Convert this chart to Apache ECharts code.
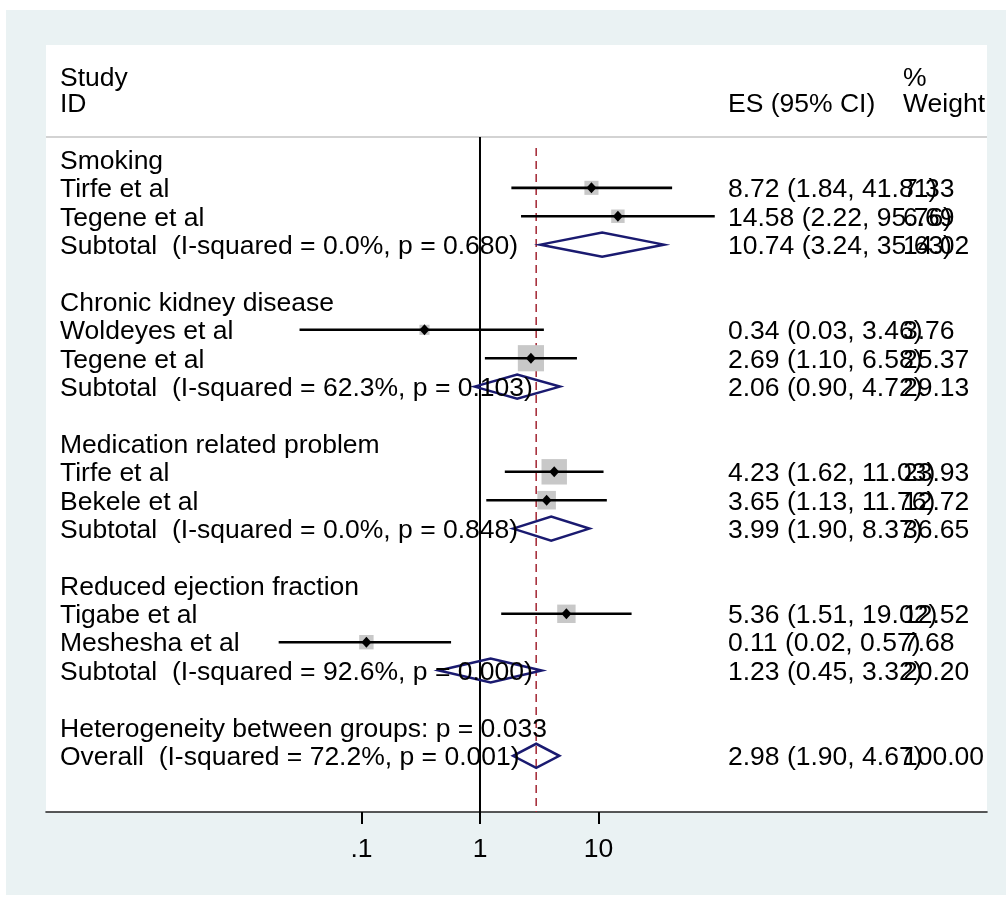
<!DOCTYPE html>
<html>
<head>
<meta charset="utf-8">
<script src="https://cdn.jsdelivr.net/npm/echarts@6/dist/echarts.min.js"></script>
<style>
html,body{margin:0;padding:0;background:#fff;}
#chart{width:1006px;height:900px;}
</style>
</head>
<body>
<div id="chart"></div>
<script>
// ---- data ----
const headerLine1 = ['Study', '', '%'];
const headerLine2 = ['ID', 'ES (95% CI)', 'Weight'];
const rowLabels = [
  'Smoking', 'Tirfe et al', 'Tegene et al', 'Subtotal  (I-squared = 0.0%, p = 0.680)', '',
  'Chronic kidney disease', 'Woldeyes et al', 'Tegene et al', 'Subtotal  (I-squared = 62.3%, p = 0.103)', '',
  'Medication related problem', 'Tirfe et al', 'Bekele et al', 'Subtotal  (I-squared = 0.0%, p = 0.848)', '',
  'Reduced ejection fraction', 'Tigabe et al', 'Meshesha et al', 'Subtotal  (I-squared = 92.6%, p = 0.000)', '',
  'Heterogeneity between groups: p = 0.033', 'Overall  (I-squared = 72.2%, p = 0.001)'
];
const rowType = [
  'group', 'study', 'study', 'subtotal', 'blank',
  'group', 'study', 'study', 'subtotal', 'blank',
  'group', 'study', 'study', 'subtotal', 'blank',
  'group', 'study', 'study', 'subtotal', 'blank',
  'text', 'overall'
];
const esValues = [null, 8.72, 14.58, 10.74, null, null, 0.34, 2.69, 2.06, null, null, 4.23, 3.65, 3.99, null, null, 5.36, 0.11, 1.23, null, null, 2.98];
const ciLower  = [null, 1.84, 2.22, 3.24, null, null, 0.03, 1.10, 0.90, null, null, 1.62, 1.13, 1.90, null, null, 1.51, 0.02, 0.45, null, null, 1.90];
const ciUpper  = [null, 41.81, 95.76, 35.63, null, null, 3.46, 6.58, 4.72, null, null, 11.03, 11.76, 8.37, null, null, 19.02, 0.57, 3.32, null, null, 4.67];
const weights  = [null, 7.33, 6.69, 14.02, null, null, 3.76, 25.37, 29.13, null, null, 23.93, 12.72, 36.65, null, null, 12.52, 7.68, 20.20, null, null, 100.00];
const tickValues = [0.1, 1, 10];
const tickLabels = ['.1', '1', '10'];
const nullValue = 1;
const overallES = 2.98;

// ---- layout / style constants ----
const FONT = '"Liberation Sans", Arial, sans-serif';
const FS = 26.5;
const TEXT_DY = 2;
const COL_LABEL_X = 60, COL_ES_X = 728, COL_W_X = 903;
const HEADER_ROW1 = -2.905, HEADER_ROW2 = -2.0, HEADER_RULE = -0.79, DASH_TOP = -0.40;
const BOX_SCALE = 5.2;
const NAVY = '#1a1a70';

const lg = v => Math.log10(v);
const rowIdx = rowLabels.map((_, i) => [0, i]);

function textEl(x, y, s, align) {
  return {type: 'text', x: x, y: y + TEXT_DY, style: {text: s, fill: '#000', font: FS + 'px ' + FONT, textAlign: align || 'left', textVerticalAlign: 'middle'}};
}

const chart = echarts.init(document.getElementById('chart'), null, {renderer: 'canvas'});
chart.setOption({
  animation: false,
  backgroundColor: '#fff',
  graphic: [{type: 'rect', z: -10, shape: {x: 6, y: 10, width: 1000, height: 885}, style: {fill: '#eaf2f3'}}],
  grid: {left: 46, right: 19, top: 45, bottom: 88, show: true, backgroundColor: '#fff', borderWidth: 0},
  xAxis: {
    type: 'value', min: -3.6624, max: 4.2785,
    splitLine: {show: false},
    axisLine: {show: true, onZero: false, lineStyle: {color: '#222', width: 1.6}},
    axisTick: {show: true, length: 12, lineStyle: {color: '#000', width: 2}, customValues: tickValues.map(lg)},
    axisLabel: {
      customValues: tickValues.map(lg), margin: 24, color: '#000', fontSize: FS, fontFamily: FONT,
      formatter: function (v) {
        for (let k = 0; k < tickValues.length; k++) if (Math.abs(lg(tickValues[k]) - v) < 1e-6) return tickLabels[k];
        return '';
      }
    }
  },
  yAxis: {type: 'value', inverse: true, min: -4.03, max: 22.98, show: false},
  series: [
    { // reference lines and header rule
      type: 'custom', clip: false, z: 1,
      data: [[0, 0]],
      renderItem: function (params, api) {
        const cs = params.coordSys;
        const yRule = api.coord([0, HEADER_RULE])[1];
        const yDash = api.coord([0, DASH_TOP])[1];
        const yBot = cs.y + cs.height;
        const xNull = api.coord([lg(nullValue), 0])[0];
        const xOv = api.coord([lg(overallES), 0])[0];
        return {type: 'group', children: [
          {type: 'line', shape: {x1: cs.x, y1: yRule, x2: cs.x + cs.width, y2: yRule}, style: {stroke: '#c4c4c4', lineWidth: 1.6}},
          {type: 'line', shape: {x1: xNull, y1: yRule, x2: xNull, y2: yBot}, style: {stroke: '#000', lineWidth: 2}},
          {type: 'line', shape: {x1: xOv, y1: yDash, x2: xOv, y2: yBot}, style: {stroke: '#a8323e', lineWidth: 1.6, lineDash: [8, 5]}}
        ]};
      }
    },
    { // forest marks
      type: 'custom', clip: false, z: 2,
      data: rowIdx,
      renderItem: function (params, api) {
        const i = api.value(1);
        const t = rowType[i];
        if (esValues[i] == null) return {type: 'group', children: []};
        const y = api.coord([0, i])[1];
        const xe = api.coord([lg(esValues[i]), i])[0];
        const xl = api.coord([lg(ciLower[i]), i])[0];
        const xu = api.coord([lg(ciUpper[i]), i])[0];
        if (t === 'study') {
          const s = BOX_SCALE * Math.sqrt(weights[i]);
          return {type: 'group', children: [
            {type: 'rect', shape: {x: xe - s / 2, y: y - s / 2, width: s, height: s}, style: {fill: '#c8c8c8'}},
            {type: 'line', shape: {x1: xl, y1: y, x2: xu, y2: y}, style: {stroke: '#000', lineWidth: 2.6}},
            {type: 'polygon', shape: {points: [[xe - 5, y], [xe, y - 5.5], [xe + 5, y], [xe, y + 5.5]]}, style: {fill: '#000'}}
          ]};
        }
        const h = 12;
        return {type: 'polygon', shape: {points: [[xl, y], [xe, y - h], [xu, y], [xe, y + h]]}, style: {fill: 'none', stroke: NAVY, lineWidth: 2.5}};
      }
    },
    { // text
      type: 'custom', clip: false, z: 3,
      data: rowIdx,
      renderItem: function (params, api) {
        const i = api.value(1);
        const y = api.coord([0, i])[1];
        const kids = [];
        if (rowLabels[i]) kids.push(textEl(COL_LABEL_X, y, rowLabels[i]));
        if (esValues[i] != null) {
          kids.push(textEl(COL_ES_X, y, esValues[i].toFixed(2) + ' (' + ciLower[i].toFixed(2) + ', ' + ciUpper[i].toFixed(2) + ')'));
          kids.push(textEl(COL_W_X, y, weights[i].toFixed(2)));
        }
        if (i === 0) {
          const y1 = api.coord([0, HEADER_ROW1])[1];
          const y2 = api.coord([0, HEADER_ROW2])[1];
          const xs = [COL_LABEL_X, COL_ES_X, COL_W_X];
          for (let k = 0; k < 3; k++) {
            if (headerLine1[k]) kids.push(textEl(xs[k], y1, headerLine1[k]));
            if (headerLine2[k]) kids.push(textEl(xs[k], y2, headerLine2[k]));
          }
        }
        return {type: 'group', children: kids};
      }
    }
  ]
});
</script>
</body>
</html>
